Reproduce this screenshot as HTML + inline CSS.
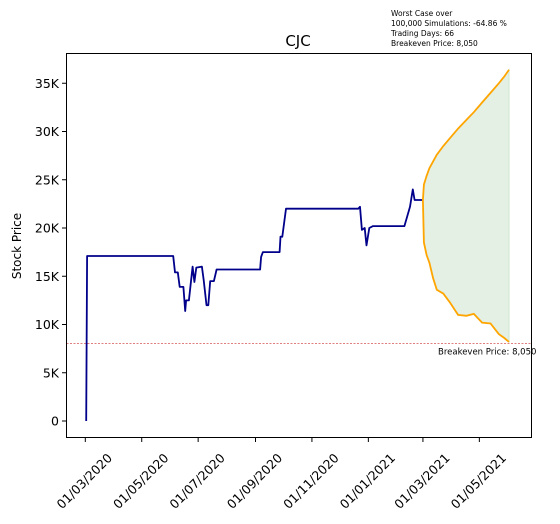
<!DOCTYPE html>
<html><head><meta charset="utf-8"><style>
body{margin:0;background:#fff;}
svg{display:block;font-family:"DejaVu Sans","Liberation Sans",sans-serif;}
</style></head><body>
<svg id="chart" width="560" height="524" viewBox="0 0 560 524" xmlns="http://www.w3.org/2000/svg">
<rect width="560" height="524" fill="#fff"/>
<text x="298" y="46" font-size="15" text-anchor="middle">CJC</text>
<g font-size="7.5">
<text x="391" y="16">Worst Case over</text>
<text x="391" y="26">100,000 Simulations: -64.86 %</text>
<text x="391" y="36">Trading Days: 66</text>
<text x="391" y="46">Breakeven Price: 8,050</text>
</g>
<text transform="translate(21,246) rotate(-90)" font-size="12" text-anchor="middle">Stock Price</text>
<g id="plot"></g>
<rect x="66.5" y="53.5" width="465" height="384" fill="none" stroke="#000" stroke-width="1"/>
</svg>
<script>
const xTickDays=[0,61,122,184,245,306,365,426];
const xTickLabels=["01/03/2020","01/05/2020","01/07/2020","01/09/2020","01/11/2020","01/01/2021","01/03/2021","01/05/2021"];
const yTickValues=[0,5000,10000,15000,20000,25000,30000,35000];
const yTickLabels=["0","5K","10K","15K","20K","25K","30K","35K"];
const histDays=[1,2,95,97,100,102,106,108,109,112,116,118,120,126,128,131,133,135,139,142,189,190,192,210,211,213,217,295,297,299,302,304,307,311,345,351,354,356,365];
const histPrices=[0,17100,17100,15400,15400,13900,13900,11400,12500,12500,16000,14400,15900,16000,14600,12000,12000,14500,14500,15700,15700,17000,17500,17500,19100,19100,22000,22000,22200,19800,20000,18200,20000,20200,20200,22200,24000,22900,22900];
const simDays=[365,366,369,372,376,380,387,394,403,412,420,429,438,447,453,458];
const simUpper=[22900,24500,25400,26200,26900,27600,28500,29300,30300,31200,32000,33000,34000,35000,35700,36400];
const simLower=[22900,18500,17200,16400,14800,13600,13200,12300,11000,10900,11100,10200,10100,9000,8600,8200];
const breakeven=8050;

const NS="http://www.w3.org/2000/svg";
const plot=document.getElementById('plot');
function X(d){return 85.3+d*0.925;}
function Y(v){return 421-v*0.00965;}
function mk(tag,attrs){const e=document.createElementNS(NS,tag);for(const k in attrs)e.setAttribute(k,attrs[k]);plot.appendChild(e);return e;}
function pts(ds,vs){return ds.map((d,i)=>X(d).toFixed(1)+','+Y(vs[i]).toFixed(1)).join(' ');}

const area=mk('polygon',{points:pts(simDays,simUpper)+' '+pts(simDays.slice().reverse(),simLower.slice().reverse()),fill:'#e3f0e3',stroke:'#cfe6cf','stroke-width':'1'});


const be=mk('line',{x1:66.5,x2:531.5,y1:Y(breakeven),y2:Y(breakeven),stroke:'#c33','stroke-width':'0.6','stroke-dasharray':'2,1.5'});


const bt=mk('text',{x:438,y:Y(breakeven)+11,'font-size':'8.5'});bt.textContent='Breakeven Price: 8,050';


const hl=mk('polyline',{points:pts(histDays,histPrices),fill:'none',stroke:'#00008b','stroke-width':'1.8','stroke-linejoin':'round'});


const ul=mk('polyline',{points:pts(simDays,simUpper),fill:'none',stroke:'#ffa500','stroke-width':'1.8'});


const ll=mk('polyline',{points:pts(simDays,simLower),fill:'none',stroke:'#ffa500','stroke-width':'1.8'});


yTickValues.forEach((v,i)=>{
 const t=mk('line',{x1:62,x2:66.5,y1:Y(v),y2:Y(v),stroke:'#000','stroke-width':'1'});
 
 
 const l=mk('text',{x:59,y:Y(v)+4.5,'font-size':'12.5','text-anchor':'end'});l.textContent=yTickLabels[i];
 
 
});
xTickDays.forEach((d,i)=>{
 const x=X(d);
 const t=mk('line',{x1:x,x2:x,y1:437.5,y2:442,stroke:'#000','stroke-width':'1'});
 
 
 const l=mk('text',{x:0,y:4.5,'font-size':'12.5','text-anchor':'middle',transform:`translate(${x-1},481) rotate(-45)`});l.textContent=xTickLabels[i];
 
 
});
</script>
</body></html>
